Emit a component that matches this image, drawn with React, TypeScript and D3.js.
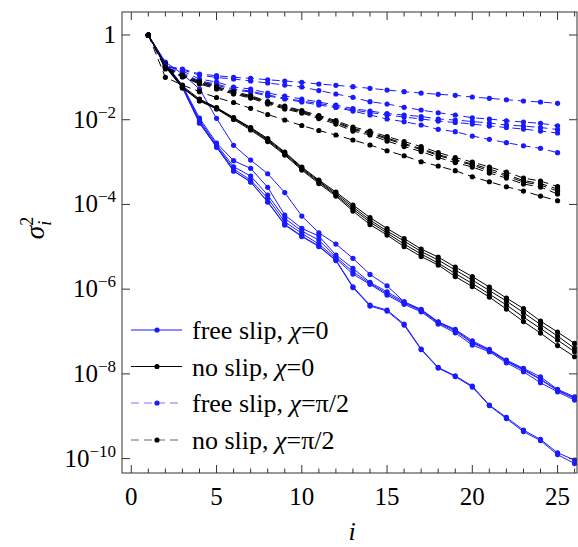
import React, { useEffect, useRef } from 'react';
import * as d3 from 'd3';

const W = 578;
const H = 547;

// log10(sigma_i^2), i = 1..26
const freeSlipChi0 = [
  [0, -0.638, -0.921, -1.275, -1.967, -2.605, -2.952, -3.275, -3.719, -4.274, -4.668, -4.935, -5.273, -5.651, -5.920, -6.298, -6.494, -6.777, -6.966, -7.249, -7.438, -7.698, -7.887, -8.123, -8.383, -8.572],
  [0, -0.661, -1.192, -1.960, -2.550, -2.968, -3.148, -3.596, -4.250, -4.564, -4.746, -5.195, -5.509, -5.840, -6.061, -6.298, -6.477, -6.770, -6.949, -7.218, -7.422, -7.674, -7.870, -8.069, -8.366, -8.541],
  [0, -0.685, -1.216, -2.007, -2.586, -3.110, -3.329, -3.778, -4.328, -4.628, -4.841, -5.242, -5.589, -5.863, -6.104, -6.328, -6.505, -6.801, -6.989, -7.273, -7.450, -7.705, -7.910, -8.135, -8.394, -8.579],
  [0, -0.708, -1.228, -2.043, -2.621, -3.164, -3.424, -3.856, -4.409, -4.682, -4.935, -5.278, -5.644, -5.887, -6.139, -6.359, -6.534, -6.824, -7.030, -7.320, -7.478, -7.738, -7.950, -8.210, -8.423, -8.619],
  [0, -0.732, -1.240, -2.078, -2.645, -3.211, -3.464, -3.936, -4.470, -4.746, -4.982, -5.313, -5.943, -6.376, -6.494, -6.824, -7.414, -7.847, -8.045, -8.288, -8.737, -9.027, -9.327, -9.547, -9.863, -10.036],
  [0, -0.732, -1.240, -2.078, -2.645, -3.211, -3.471, -3.943, -4.486, -4.758, -4.994, -5.325, -5.962, -6.399, -6.517, -6.848, -7.426, -7.863, -8.064, -8.312, -8.749, -9.056, -9.363, -9.575, -9.906, -10.118],
];

const noSlipChi0 = [
  [0, -0.685, -1.204, -1.511, -1.712, -1.948, -2.184, -2.444, -2.763, -3.117, -3.424, -3.707, -4.014, -4.309, -4.569, -4.805, -5.053, -5.242, -5.478, -5.703, -5.950, -6.210, -6.458, -6.753, -7.013, -7.280],
  [0, -0.708, -1.228, -1.535, -1.724, -1.960, -2.196, -2.468, -2.786, -3.141, -3.448, -3.743, -4.061, -4.368, -4.628, -4.864, -5.112, -5.313, -5.549, -5.785, -6.033, -6.281, -6.553, -6.836, -7.108, -7.398],
  [0, -0.732, -1.240, -1.547, -1.736, -1.972, -2.220, -2.491, -2.810, -3.164, -3.471, -3.778, -4.109, -4.416, -4.675, -4.935, -5.171, -5.384, -5.632, -5.868, -6.116, -6.376, -6.659, -6.930, -7.202, -7.478],
  [0, -0.756, -1.251, -1.558, -1.747, -1.995, -2.243, -2.515, -2.834, -3.188, -3.507, -3.802, -4.156, -4.475, -4.723, -4.994, -5.230, -5.431, -5.703, -5.939, -6.187, -6.470, -6.765, -7.037, -7.332, -7.596],
];

// i = 1..25
const freeSlipChiHalfPi = [
  [0, -0.732, -0.803, -0.921, -0.961, -0.999, -1.022, -1.056, -1.086, -1.117, -1.157, -1.188, -1.221, -1.259, -1.299, -1.339, -1.370, -1.400, -1.424, -1.464, -1.495, -1.528, -1.558, -1.582, -1.613],
  [0, -0.732, -0.826, -0.945, -1.004, -1.039, -1.086, -1.133, -1.181, -1.228, -1.311, -1.393, -1.471, -1.575, -1.629, -1.707, -1.771, -1.835, -1.889, -1.953, -1.983, -2.024, -2.054, -2.085, -2.142],
  [0, -0.732, -0.850, -1.039, -1.110, -1.228, -1.275, -1.370, -1.440, -1.511, -1.582, -1.653, -1.736, -1.795, -1.854, -1.889, -1.924, -1.983, -2.007, -2.043, -2.078, -2.125, -2.149, -2.184, -2.231],
  [0, -0.756, -0.897, -1.086, -1.157, -1.275, -1.322, -1.417, -1.488, -1.558, -1.617, -1.688, -1.771, -1.830, -1.889, -1.936, -1.983, -2.031, -2.066, -2.102, -2.149, -2.184, -2.220, -2.267, -2.314],
  [0, -0.756, -0.921, -1.110, -1.181, -1.299, -1.346, -1.440, -1.511, -1.582, -1.653, -1.712, -1.795, -1.889, -1.983, -2.047, -2.125, -2.227, -2.283, -2.385, -2.463, -2.543, -2.614, -2.675, -2.779],
];

const noSlipChiHalfPi = [
  [0, -0.756, -0.945, -1.098, -1.216, -1.334, -1.429, -1.570, -1.677, -1.783, -1.901, -2.019, -2.172, -2.267, -2.397, -2.515, -2.633, -2.775, -2.893, -2.999, -3.117, -3.235, -3.377, -3.448, -3.577],
  [0, -0.779, -0.968, -1.122, -1.240, -1.358, -1.452, -1.594, -1.700, -1.806, -1.924, -2.043, -2.208, -2.302, -2.432, -2.562, -2.680, -2.822, -2.940, -3.046, -3.164, -3.294, -3.436, -3.507, -3.636],
  [0, -0.779, -0.980, -1.133, -1.251, -1.370, -1.464, -1.606, -1.724, -1.818, -1.948, -2.066, -2.231, -2.326, -2.456, -2.586, -2.704, -2.845, -2.963, -3.070, -3.211, -3.329, -3.471, -3.542, -3.684],
  [0, -0.803, -0.992, -1.157, -1.275, -1.393, -1.488, -1.629, -1.747, -1.842, -1.972, -2.102, -2.267, -2.361, -2.503, -2.633, -2.751, -2.893, -3.011, -3.117, -3.259, -3.377, -3.518, -3.589, -3.754],
  [0, -0.999, -1.181, -1.339, -1.476, -1.594, -1.731, -1.877, -2.007, -2.137, -2.255, -2.361, -2.479, -2.597, -2.732, -2.850, -2.992, -3.093, -3.204, -3.346, -3.464, -3.582, -3.684, -3.802, -3.913],
];

const xTicks = [0, 5, 10, 15, 20, 25];
const yTickExps = [0, -2, -4, -6, -8, -10];
const legendNames = ['free slip, ', 'no slip, ', 'free slip, ', 'no slip, '];
const legendChi = ['0', '0', 'π/2', 'π/2'];

const BLUE = '#1a1aff';
const FONT = "'Liberation Serif', 'Times New Roman', Times, 'DejaVu Serif', serif";

const App: React.FC = () => {
  const svgRef = useRef<SVGSVGElement>(null);

  useEffect(() => {
    if (!svgRef.current) return;
    const svg = d3.select(svgRef.current);
    svg.selectAll('*').remove();

    const left = 122, right = 577, top = 12, bottom = 473;
    const x = d3.scaleLinear().domain([-0.545, 26.14]).range([left, right]);
    const y = d3.scaleLog().domain([Math.pow(10, -10.34), Math.pow(10, 0.543)]).range([bottom, top]);

    svg.append('defs').append('clipPath').attr('id', 'plotClip')
      .append('rect').attr('x', left).attr('y', top).attr('width', right - left).attr('height', bottom - top);

    const plot = svg.append('g').attr('clip-path', 'url(#plotClip)');

    const line = d3.line<number>()
      .x((_, i) => x(i + 1))
      .y(d => y(Math.pow(10, d)));

    const groups = [
      { data: freeSlipChi0, color: BLUE, dash: null as string | null },
      { data: noSlipChi0, color: '#000', dash: null as string | null },
      { data: freeSlipChiHalfPi, color: BLUE, dash: '8,5' },
      { data: noSlipChiHalfPi, color: '#000', dash: '8,5' },
    ];

    groups.forEach(g => {
      g.data.forEach(series => {
        plot.append('path')
          .attr('d', line(series))
          .attr('fill', 'none')
          .attr('stroke', g.color)
          .attr('stroke-width', 1)
          .attr('stroke-dasharray', g.dash);
        plot.selectAll(null)
          .data(series)
          .enter()
          .append('circle')
          .attr('cx', (_, i) => x(i + 1))
          .attr('cy', d => y(Math.pow(10, d)))
          .attr('r', 2.6)
          .attr('fill', g.color);
      });
    });

    // frame
    const axisColor = '#333';
    svg.append('rect')
      .attr('x', left).attr('y', top).attr('width', right - left).attr('height', bottom - top)
      .attr('fill', 'none').attr('stroke', axisColor).attr('stroke-width', 1);

    // x ticks, top and bottom
    d3.range(0, 27).forEach(i => {
      const len = i % 5 === 0 ? 8 : 4.5;
      const px = x(i);
      svg.append('line').attr('x1', px).attr('x2', px).attr('y1', bottom).attr('y2', bottom - len)
        .attr('stroke', axisColor);
      svg.append('line').attr('x1', px).attr('x2', px).attr('y1', top).attr('y2', top + len)
        .attr('stroke', axisColor);
    });
    xTicks.forEach(t => {
      svg.append('text')
        .attr('x', x(t)).attr('y', 505)
        .attr('text-anchor', 'middle')
        .attr('font-family', FONT).attr('font-size', 25)
        .text(t);
    });

    // y ticks, left and right
    yTickExps.forEach(e => {
      const py = y(Math.pow(10, e));
      svg.append('line').attr('x1', left).attr('x2', left + 8).attr('y1', py).attr('y2', py).attr('stroke', axisColor);
      svg.append('line').attr('x1', right - 8).attr('x2', right).attr('y1', py).attr('y2', py).attr('stroke', axisColor);
      const t = svg.append('text')
        .attr('x', 116).attr('y', py + 8)
        .attr('text-anchor', 'end')
        .attr('font-family', FONT).attr('font-size', 25);
      if (e === 0) {
        t.text('1');
      } else {
        t.append('tspan').text('10');
        t.append('tspan').attr('dy', -10).attr('font-size', 17).text('−' + Math.abs(e));
      }
    });

    // axis labels
    svg.append('text')
      .attr('x', 352).attr('y', 540)
      .attr('text-anchor', 'middle')
      .attr('font-family', FONT).attr('font-size', 26).attr('font-style', 'italic')
      .text('i');

    const yl = svg.append('text')
      .attr('transform', 'translate(44,228) rotate(-90)')
      .attr('text-anchor', 'middle')
      .attr('font-family', FONT).attr('font-size', 27);
    yl.append('tspan').attr('font-style', 'italic').text('σ');
    yl.append('tspan').attr('dy', -11).attr('font-size', 18).text('2');
    yl.append('tspan').attr('dx', -9).attr('dy', 18).attr('font-size', 18).attr('font-style', 'italic').text('i');

    // legend
    const rows = [330, 366.5, 403, 440];
    groups.forEach((g, k) => {
      const ry = rows[k];
      svg.append('line')
        .attr('x1', 131).attr('x2', 182).attr('y1', ry).attr('y2', ry)
        .attr('stroke', g.color).attr('stroke-width', 1)
        .attr('stroke-dasharray', g.dash)
        .attr('opacity', g.dash ? 0.6 : 1);
      svg.append('circle').attr('cx', 157).attr('cy', ry).attr('r', 2.6).attr('fill', g.color);
      const t = svg.append('text')
        .attr('x', 192).attr('y', ry + 9)
        .attr('font-family', FONT).attr('font-size', 26);
      t.append('tspan').text(legendNames[k]);
      t.append('tspan').attr('font-style', 'italic').text('χ');
      t.append('tspan').text('=' + legendChi[k]);
    });
  }, []);

  return (
    <div style={{ position: 'absolute', left: 0, top: 0 }}>
      <svg ref={svgRef} width={W} height={H} style={{ display: 'block', background: '#fff' }} />
    </div>
  );
};

export default App;
